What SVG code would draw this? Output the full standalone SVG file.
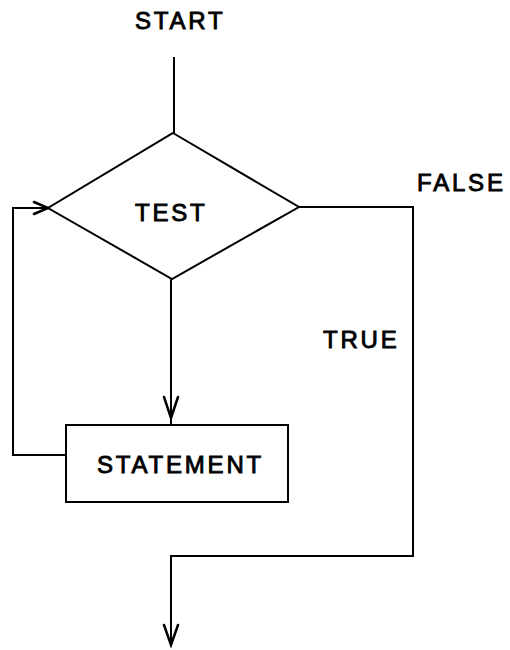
<svg xmlns="http://www.w3.org/2000/svg" width="510" height="650" viewBox="0 0 510 650">
  <defs>
    <style>
      .ln { fill: none; stroke: #000; stroke-width: 2; stroke-linejoin: miter; }
      .shape { fill: #fff; stroke: #000; stroke-width: 2; }
      .lbl { font-family: "Liberation Sans", Arial, sans-serif; font-size: 24px; letter-spacing: 2.8px; fill: #000; stroke: #000; stroke-width: 0.9; }
      .head { fill: none; stroke: #000; stroke-width: 2.5; stroke-linejoin: miter; stroke-linecap: round; }
    </style>
  </defs>
  <rect width="510" height="650" fill="#fff"/>

  <!-- connectors -->
  <g id="connectors">
    <!-- start entry -->
    <path class="ln" d="M174,57 V133"/>
    <!-- test to statement (true) -->
    <path class="ln" d="M171,279 V425"/>
    <path class="head" d="M164,397 L171,418 L178,397"/>
    <!-- loop back from statement to test -->
    <path class="ln" d="M66,455 H13 V208 H48"/>
    <path class="head" d="M34,202 L48,208 L34,214"/>
    <!-- false exit -->
    <path class="ln" d="M299,207 H413 V556 H171 V645"/>
    <path class="head" d="M164,625 L171,645 L178,625"/>
  </g>

  <!-- labels on branches -->
  <g id="start-label">
    <text class="lbl" x="135" y="29">START</text>
  </g>
  <g id="false-label">
    <text class="lbl" x="417" y="191" letter-spacing="4">FALSE</text>
  </g>
  <g id="true-label">
    <text class="lbl" x="323" y="348">TRUE</text>
  </g>

  <!-- decision -->
  <g id="test">
    <polygon class="shape" points="173,133 299,207 172,279 48,208"/>
    <text class="lbl" x="135" y="221">TEST</text>
  </g>

  <!-- process -->
  <g id="statement">
    <rect class="shape" x="66" y="425" width="222" height="77"/>
    <text class="lbl" x="97" y="473">STATEMENT</text>
  </g>
</svg>
